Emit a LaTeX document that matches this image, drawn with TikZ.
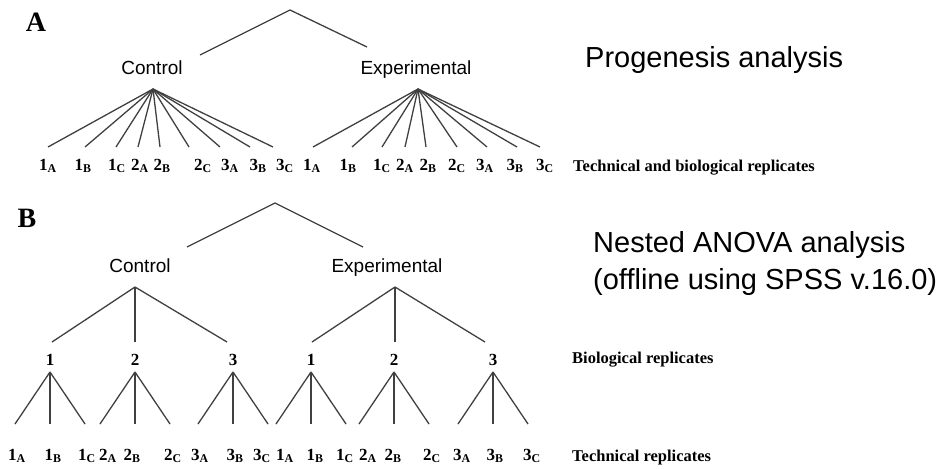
\documentclass[tikz,border=0pt]{standalone}
\usepackage{fontspec}
\setmainfont{Liberation Serif}
\newfontfamily\arialfont{Liberation Sans}
\newcommand{\rp}[2]{#1\textsubscript{#2}}
\begin{document}
\begin{tikzpicture}[x=1pt,y=-1pt,
  edge/.style={draw=black!75, line width=1.3pt},
  grp/.style={font=\arialfont\fontsize{19}{22}\selectfont, anchor=base, inner sep=0pt},
  rep/.style={font=\bfseries\fontsize{17}{20}\selectfont, anchor=base, inner sep=0pt},
  note/.style={font=\bfseries\fontsize{16.5}{20}\selectfont, anchor=base west, inner sep=0pt},
  big/.style={font=\arialfont\fontsize{29}{35}\selectfont, anchor=base west, inner sep=0pt},
  panel/.style={font=\bfseries\fontsize{28}{32}\selectfont, anchor=base, inner sep=0pt}]
\useasboundingbox (0,0) rectangle (941,468);
\node[panel] (lblA) at (36,32) {A};
\node[big] (prog) at (585,68) {Progenesis analysis};
\coordinate (rootA) at (290,10);
\coordinate (rootAl) at (200,55);
\coordinate (rootAr) at (367,47);
\draw[edge] (rootAl) -- (rootA) -- (rootAr);
\node[grp] (ctlA) at (152,75) {Control};
\node[grp] (expA) at (416,75) {Experimental};
\coordinate (ctlAtip) at (153,89);
\coordinate (expAtip) at (418,89);
\node[rep] (ca1) at (48,170) {\rp{1}{A}};
\node[rep] (ca2) at (83,170) {\rp{1}{B}};
\node[rep] (ca3) at (117,170) {\rp{1}{C}};
\node[rep] (ca4) at (140,170) {\rp{2}{A}};
\node[rep] (ca5) at (162,170) {\rp{2}{B}};
\node[rep] (ca6) at (203,170) {\rp{2}{C}};
\node[rep] (ca7) at (230,170) {\rp{3}{A}};
\node[rep] (ca8) at (258,170) {\rp{3}{B}};
\node[rep] (ca9) at (285,170) {\rp{3}{C}};
\coordinate (ca1e) at (48,147);
\coordinate (ca2e) at (85,147);
\coordinate (ca3e) at (116,147);
\coordinate (ca4e) at (138,147);
\coordinate (ca5e) at (160,147);
\coordinate (ca6e) at (189,147);
\coordinate (ca7e) at (220,147);
\coordinate (ca8e) at (250,147);
\coordinate (ca9e) at (273,147);
\draw[edge] (ctlAtip) -- (ca1e);
\draw[edge] (ctlAtip) -- (ca2e);
\draw[edge] (ctlAtip) -- (ca3e);
\draw[edge] (ctlAtip) -- (ca4e);
\draw[edge] (ctlAtip) -- (ca5e);
\draw[edge] (ctlAtip) -- (ca6e);
\draw[edge] (ctlAtip) -- (ca7e);
\draw[edge] (ctlAtip) -- (ca8e);
\draw[edge] (ctlAtip) -- (ca9e);
\node[rep] (ea1) at (312,170) {\rp{1}{A}};
\node[rep] (ea2) at (348,170) {\rp{1}{B}};
\node[rep] (ea3) at (382,170) {\rp{1}{C}};
\node[rep] (ea4) at (405,170) {\rp{2}{A}};
\node[rep] (ea5) at (428,170) {\rp{2}{B}};
\node[rep] (ea6) at (457,170) {\rp{2}{C}};
\node[rep] (ea7) at (485,170) {\rp{3}{A}};
\node[rep] (ea8) at (515,170) {\rp{3}{B}};
\node[rep] (ea9) at (545,170) {\rp{3}{C}};
\coordinate (ea1e) at (313,147);
\coordinate (ea2e) at (352,147);
\coordinate (ea3e) at (382,147);
\coordinate (ea4e) at (405,147);
\coordinate (ea5e) at (426,147);
\coordinate (ea6e) at (457,147);
\coordinate (ea7e) at (487,147);
\coordinate (ea8e) at (517,147);
\coordinate (ea9e) at (540,147);
\draw[edge] (expAtip) -- (ea1e);
\draw[edge] (expAtip) -- (ea2e);
\draw[edge] (expAtip) -- (ea3e);
\draw[edge] (expAtip) -- (ea4e);
\draw[edge] (expAtip) -- (ea5e);
\draw[edge] (expAtip) -- (ea6e);
\draw[edge] (expAtip) -- (ea7e);
\draw[edge] (expAtip) -- (ea8e);
\draw[edge] (expAtip) -- (ea9e);
\node[note] (techbioA) at (573,171) {Technical and biological replicates};

\node[panel] (lblB) at (27,227) {B};
\node[big] (nest1) at (593,252) {Nested ANOVA analysis};
\node[big] (nest2) at (593,289) {(offline using SPSS v.16.0)};
\coordinate (rootB) at (275,203);
\coordinate (rootBl) at (187,247);
\coordinate (rootBr) at (363,247);
\draw[edge] (rootBl) -- (rootB) -- (rootBr);
\node[grp] (ctlB) at (140,272) {Control};
\node[grp] (expB) at (387,272) {Experimental};
\coordinate (ctlBtip) at (135,287);
\coordinate (expBtip) at (395,287);
\coordinate (cb1t) at (52,342);
\coordinate (cb2t) at (135,342);
\coordinate (cb3t) at (227,342);
\coordinate (eb1t) at (312,342);
\coordinate (eb2t) at (395,342);
\coordinate (eb3t) at (485,342);
\draw[edge] (ctlBtip) -- (cb1t);
\draw[edge] (ctlBtip) -- (cb2t);
\draw[edge] (ctlBtip) -- (cb3t);
\draw[edge] (expBtip) -- (eb1t);
\draw[edge] (expBtip) -- (eb2t);
\draw[edge] (expBtip) -- (eb3t);
\node[rep] (cb1) at (50,365) {1};
\node[rep] (cb2) at (135,365) {2};
\node[rep] (cb3) at (233,365) {3};
\node[rep] (eb1) at (311,365) {1};
\node[rep] (eb2) at (394,365) {2};
\node[rep] (eb3) at (493,365) {3};
\node[note] (bioB) at (572,363) {Biological replicates};
\coordinate (cb1s) at (50,372);
\coordinate (cb2s) at (135,372);
\coordinate (cb3s) at (233,372);
\coordinate (eb1s) at (311,372);
\coordinate (eb2s) at (394,372);
\coordinate (eb3s) at (493,372);
\node[rep] (cc1) at (17,460) {\rp{1}{A}};
\node[rep] (cc2) at (53,460) {\rp{1}{B}};
\node[rep] (cc3) at (87,460) {\rp{1}{C}};
\node[rep] (cc4) at (108,460) {\rp{2}{A}};
\node[rep] (cc5) at (132,460) {\rp{2}{B}};
\node[rep] (cc6) at (173,460) {\rp{2}{C}};
\node[rep] (cc7) at (200,460) {\rp{3}{A}};
\node[rep] (cc8) at (235,460) {\rp{3}{B}};
\node[rep] (cc9) at (262,460) {\rp{3}{C}};
\node[rep] (ec1) at (285,460) {\rp{1}{A}};
\node[rep] (ec2) at (315,460) {\rp{1}{B}};
\node[rep] (ec3) at (345,460) {\rp{1}{C}};
\node[rep] (ec4) at (368,460) {\rp{2}{A}};
\node[rep] (ec5) at (393,460) {\rp{2}{B}};
\node[rep] (ec6) at (432,460) {\rp{2}{C}};
\node[rep] (ec7) at (462,460) {\rp{3}{A}};
\node[rep] (ec8) at (495,460) {\rp{3}{B}};
\node[rep] (ec9) at (532,460) {\rp{3}{C}};
\node[note] (techB) at (572,461) {Technical replicates};
\coordinate (cc1e) at (15,424);
\coordinate (cc2e) at (50,424);
\coordinate (cc3e) at (85,424);
\coordinate (cc4e) at (100,424);
\coordinate (cc5e) at (135,424);
\coordinate (cc6e) at (170,424);
\coordinate (cc7e) at (198,424);
\coordinate (cc8e) at (233,424);
\coordinate (cc9e) at (268,424);
\coordinate (ec1e) at (276,424);
\coordinate (ec2e) at (311,424);
\coordinate (ec3e) at (346,424);
\coordinate (ec4e) at (359,424);
\coordinate (ec5e) at (394,424);
\coordinate (ec6e) at (429,424);
\coordinate (ec7e) at (458,424);
\coordinate (ec8e) at (493,424);
\coordinate (ec9e) at (528,424);
\draw[edge] (cb1s) -- (cc1e);
\draw[edge] (cb1s) -- (cc2e);
\draw[edge] (cb1s) -- (cc3e);
\draw[edge] (cb2s) -- (cc4e);
\draw[edge] (cb2s) -- (cc5e);
\draw[edge] (cb2s) -- (cc6e);
\draw[edge] (cb3s) -- (cc7e);
\draw[edge] (cb3s) -- (cc8e);
\draw[edge] (cb3s) -- (cc9e);
\draw[edge] (eb1s) -- (ec1e);
\draw[edge] (eb1s) -- (ec2e);
\draw[edge] (eb1s) -- (ec3e);
\draw[edge] (eb2s) -- (ec4e);
\draw[edge] (eb2s) -- (ec5e);
\draw[edge] (eb2s) -- (ec6e);
\draw[edge] (eb3s) -- (ec7e);
\draw[edge] (eb3s) -- (ec8e);
\draw[edge] (eb3s) -- (ec9e);

\end{tikzpicture}
\end{document}
